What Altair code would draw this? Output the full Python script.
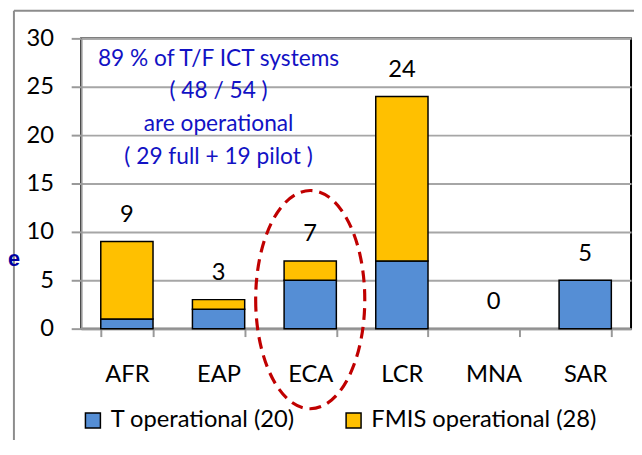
import altair as alt
import pandas as pd

regions = ["AFR", "EAP", "ECA", "LCR", "MNA", "SAR"]
t_operational = [1, 2, 5, 7, 0, 5]
fmis_operational = [8, 1, 2, 17, 0, 0]
series_names = ["T operational (20)", "FMIS operational (28)"]
series_colors = ["#558ED5", "#FFC000"]
note_lines = ["89 % of T/F ICT systems", "( 48 / 54 )", "are operational", "( 29 full + 19 pilot )"]
note_region = "EAP"
note_top_value = 29.0
highlight_region = "ECA"
highlight_value = 3.0

rows = []
for r, t, f in zip(regions, t_operational, fmis_operational):
    rows.append({"region": r, "series": series_names[0], "value": t, "order": 0})
    rows.append({"region": r, "series": series_names[1], "value": f, "order": 1})
df = pd.DataFrame(rows)
tot = pd.DataFrame({"region": regions,
                    "total": [t + f for t, f in zip(t_operational, fmis_operational)]})
note = pd.DataFrame({"region": [note_region], "value": [note_top_value]})
hl = pd.DataFrame({"region": [highlight_region], "value": [highlight_value]})

FONT = "Lato"
x_scale = alt.Scale(domain=regions, paddingInner=0.43, paddingOuter=0.215)
y_scale = alt.Scale(domain=[0, 30], nice=False)

bars = alt.Chart(df).transform_filter("datum.value > 0").mark_bar(
    stroke="black", strokeWidth=1.5
).encode(
    x=alt.X("region:N", scale=x_scale, sort=regions,
            axis=alt.Axis(title=None, labelAngle=0, tickBand="extent", tickSize=8,
                          labelPadding=27, labelFontSize=24, labelFont=FONT,
                          labelColor="black", domainColor="#999999", domainWidth=2,
                          tickColor="#999999", tickWidth=2)),
    y=alt.Y("value:Q", stack="zero", scale=y_scale,
            axis=alt.Axis(title=None, values=[0, 5, 10, 15, 20, 25, 30], tickSize=10,
                          labelPadding=18, labelFontSize=24, labelFont=FONT,
                          labelColor="black", domainColor="#999999", domainWidth=2,
                          tickColor="#999999", tickWidth=2, gridColor="#A6A6A6",
                          gridWidth=2)),
    color=alt.Color("series:N", scale=alt.Scale(domain=series_names, range=series_colors),
                    legend=alt.Legend(title=None, orient="none", legendX=0, legendY=375,
                                      direction="horizontal", symbolType="square",
                                      symbolSize=230, symbolStrokeColor="black",
                                      symbolStrokeWidth=1.5, symbolOpacity=1,
                                      labelFontSize=24, labelFont=FONT, labelColor="black",
                                      labelOffset=6, columnPadding=47, labelLimit=400)),
    order=alt.Order("order:Q"),
)

labels = alt.Chart(tot).mark_text(
    dy=-27, fontSize=24, font=FONT, color="black", baseline="middle"
).encode(
    x=alt.X("region:N", scale=x_scale, sort=regions),
    y=alt.Y("total:Q", scale=y_scale),
    text="total:Q",
)

note_text = alt.Chart(note).mark_text(
    fontSize=23, font=FONT, color="#1212C4", baseline="top", align="center",
    lineHeight=33
).encode(
    x=alt.X("region:N", scale=x_scale, sort=regions),
    y=alt.Y("value:Q", scale=y_scale),
    text=alt.value(note_lines),
)

ellipse = alt.Chart(hl).mark_point(
    shape="M -0.5 0 A 0.5 1 0 1 0 0.5 0 A 0.5 1 0 1 0 -0.5 0 Z",
    filled=False, stroke="#C00000", strokeWidth=3.2, strokeDash=[12, 7],
    size=48841, opacity=1
).encode(
    x=alt.X("region:N", scale=x_scale, sort=regions),
    y=alt.Y("value:Q", scale=y_scale),
)

frame_left = alt.Chart(note).mark_rule(color="#8C8C8C", strokeWidth=2).encode(
    x=alt.value(-68), y=alt.value(-28), y2=alt.value(420))
frame_top = alt.Chart(note).mark_rule(color="#8C8C8C", strokeWidth=2).encode(
    x=alt.value(-68), x2=alt.value(600), y=alt.value(-28))
cut_title = alt.Chart(note).mark_text(
    text="e", fontSize=22, font="Liberation Sans", fontWeight="bold", color="#0000A0",
    align="left", baseline="middle"
).encode(x=alt.value(-74), y=alt.value(224))

chart = alt.layer(frame_left, frame_top, bars, labels, note_text, ellipse, cut_title).properties(
    width=557, height=294,
    autosize=alt.AutoSizeParams(type="none"),
    padding={"left": 74, "top": 28, "right": 3, "bottom": 110},
).configure_view(stroke="black", strokeWidth=2)

chart.save("out.html", embed_options={"renderer": "svg", "actions": False})
